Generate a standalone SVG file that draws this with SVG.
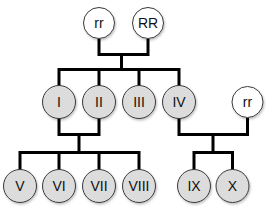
<svg xmlns="http://www.w3.org/2000/svg" width="269" height="208" viewBox="0 0 269 208">
<defs>
<filter id="sh" x="-30%" y="-30%" width="160%" height="160%">
<feDropShadow dx="1" dy="1.5" stdDeviation="1" flood-color="#000" flood-opacity="0.25"/>
</filter>
<style>
.c{stroke:#3a3a3a;stroke-width:1;filter:url(#sh)}
.w{fill:#ffffff}
.g{fill:#dcdcdc}
.t{font-family:"Liberation Sans",Arial,sans-serif;font-size:14px;fill:#111;text-anchor:middle}
.l{fill:none;stroke:#000;stroke-width:3;stroke-linejoin:miter;stroke-linecap:butt}
</style>
</defs>
<rect width="269" height="208" fill="#fff"/>
<g id="connectors" class="l">
<path d="M99,39 V54.5 H148 V39"/>
<path d="M121.5,54.5 V69.5"/>
<path d="M59,86 V69.5 H179 V86 M99,69.5 V86 M139,69.5 V86"/>
<path d="M59,118 V134.5 H99 V118"/>
<path d="M79,134.5 V152.5"/>
<path d="M20,170 V152.5 H139 V170 M59,152.5 V170 M99,152.5 V170"/>
<path d="M179,118 V134.5 H247.5 V118"/>
<path d="M213,134.5 V152.5"/>
<path d="M194,170 V152.5 H232.5 V170"/>
</g>
<g id="n_rr1"><circle class="c w" cx="99" cy="23" r="15.5"/><text class="t" x="99" y="28">rr</text></g>
<g id="n_RR"><circle class="c w" cx="148" cy="23" r="15.5"/><text class="t" x="148" y="28">RR</text></g>
<g id="n_I"><circle class="c g" cx="59" cy="102" r="16.5"/><text class="t" x="59" y="107">I</text></g>
<g id="n_II"><circle class="c g" cx="99" cy="102" r="16.5"/><text class="t" x="99" y="107">II</text></g>
<g id="n_III"><circle class="c g" cx="139" cy="102" r="16.5"/><text class="t" x="139" y="107">III</text></g>
<g id="n_IV"><circle class="c g" cx="179" cy="102" r="16.5"/><text class="t" x="179" y="107">IV</text></g>
<g id="n_rr2"><circle class="c w" cx="247.5" cy="102" r="15.5"/><text class="t" x="247.5" y="107">rr</text></g>
<g id="n_V"><circle class="c g" cx="20" cy="186" r="16.5"/><text class="t" x="20" y="191">V</text></g>
<g id="n_VI"><circle class="c g" cx="59" cy="186" r="16.5"/><text class="t" x="59" y="191">VI</text></g>
<g id="n_VII"><circle class="c g" cx="99" cy="186" r="16.5"/><text class="t" x="99" y="191">VII</text></g>
<g id="n_VIII"><circle class="c g" cx="139" cy="186" r="16.5"/><text class="t" x="139" y="191">VIII</text></g>
<g id="n_IX"><circle class="c g" cx="194" cy="186" r="16.5"/><text class="t" x="194" y="191">IX</text></g>
<g id="n_X"><circle class="c g" cx="232.5" cy="186" r="16.5"/><text class="t" x="232.5" y="191">X</text></g>
</svg>
